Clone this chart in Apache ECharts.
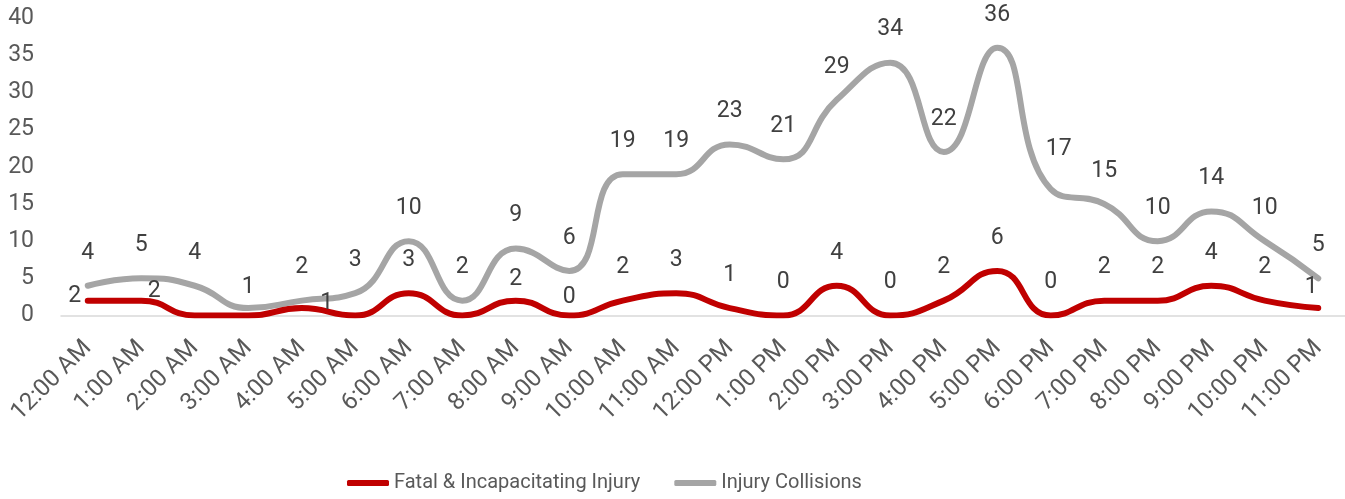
<!DOCTYPE html>
<html lang="en">
<head>
    <meta charset="UTF-8">
    <title>Collisions by hour</title>
    <script src="https://cdn.jsdelivr.net/npm/echarts@6/dist/echarts.min.js"></script>
    <style>
        html, body { margin: 0; padding: 0; background: #fff; }
    </style>
</head>
<body>
<div id="main" style="width: 1345px;height: 499px;"></div>

<script type="text/javascript">
    // data
    var hours = ['12:00 AM', '1:00 AM', '2:00 AM', '3:00 AM', '4:00 AM', '5:00 AM', '6:00 AM', '7:00 AM',
        '8:00 AM', '9:00 AM', '10:00 AM', '11:00 AM', '12:00 PM', '1:00 PM', '2:00 PM', '3:00 PM',
        '4:00 PM', '5:00 PM', '6:00 PM', '7:00 PM', '8:00 PM', '9:00 PM', '10:00 PM', '11:00 PM'];
    var fatalInjury = [2, 2, 0, 0, 1, 0, 3, 0, 2, 0, 2, 3, 1, 0, 4, 0, 2, 6, 0, 2, 2, 4, 2, 1];
    var injuryCollisions = [4, 5, 4, 1, 2, 3, 10, 2, 9, 6, 19, 19, 23, 21, 29, 34, 22, 36, 17, 15, 10, 14, 10, 5];
    var yTicks = [0, 5, 10, 15, 20, 25, 30, 35, 40];

    // label placement tweaks (pixels), like the hand-moved labels in the original
    var fatalLabelShift = {0: [-13, -4], 1: [13, -9], 4: [25, -5], 8: [0, -21], 9: [0, -18], 23: [-7, -21]};
    var fatalLabelHidden = [2, 3, 5, 7];
    var injuryLabelShift = {3: [0, -21], 18: [8, -40]};

    var fontFamily = 'Roboto, "Open Sans", sans-serif';

    function buildPoints(values, shifts, hidden) {
        return values.map(function (v, i) {
            var off = shifts[i] || [0, -33];
            return {
                value: v,
                label: {show: hidden.indexOf(i) < 0, offset: off}
            };
        });
    }

    var myChart = echarts.init(document.getElementById('main'));

    var option = {
        animation: false,
        textStyle: {fontFamily: fontFamily},
        grid: {left: 61, top: 18, width: 1288, height: 297.5},
        legend: {
            bottom: 1,
            left: 342,
            icon: 'roundRect',
            itemWidth: 42,
            itemHeight: 6,
            itemGap: 34,
            textStyle: {fontSize: 20, color: '#595959', fontFamily: fontFamily},
            data: ['Fatal & Incapacitating Injury', 'Injury Collisions']
        },
        xAxis: {
            type: 'category',
            boundaryGap: true,
            data: hours,
            axisLine: {show: true, lineStyle: {color: '#D9D9D9', width: 1.5}},
            axisTick: {show: false},
            axisLabel: {
                rotate: 45,
                interval: 0,
                margin: 29,
                fontSize: 24,
                color: '#595959',
                fontFamily: fontFamily
            }
        },
        yAxis: {
            type: 'value',
            min: yTicks[0],
            max: yTicks[yTicks.length - 1],
            interval: yTicks[1] - yTicks[0],
            axisLine: {show: false},
            axisTick: {show: false},
            splitLine: {show: false},
            axisLabel: {margin: 27, fontSize: 23, color: '#595959', fontFamily: fontFamily}
        },
        series: [
            {
                name: 'Fatal & Incapacitating Injury',
                type: 'line',
                smooth: 0.5,
                z: 3,
                symbol: 'circle',
                symbolSize: 1,
                itemStyle: {color: '#C00000'},
                lineStyle: {color: '#C00000', width: 6, cap: 'round'},
                label: {show: true, position: 'inside', fontSize: 23, color: '#404040', fontFamily: fontFamily},
                data: buildPoints(fatalInjury, fatalLabelShift, fatalLabelHidden)
            },
            {
                name: 'Injury Collisions',
                type: 'line',
                smooth: 0.5,
                z: 2,
                symbol: 'circle',
                symbolSize: 1,
                itemStyle: {color: '#A5A5A5'},
                lineStyle: {color: '#A5A5A5', width: 6, cap: 'round'},
                label: {show: true, position: 'inside', fontSize: 23, color: '#404040', fontFamily: fontFamily},
                data: buildPoints(injuryCollisions, injuryLabelShift, [])
            }
        ]
    };

    myChart.setOption(option);
</script>
</body>
</html>
